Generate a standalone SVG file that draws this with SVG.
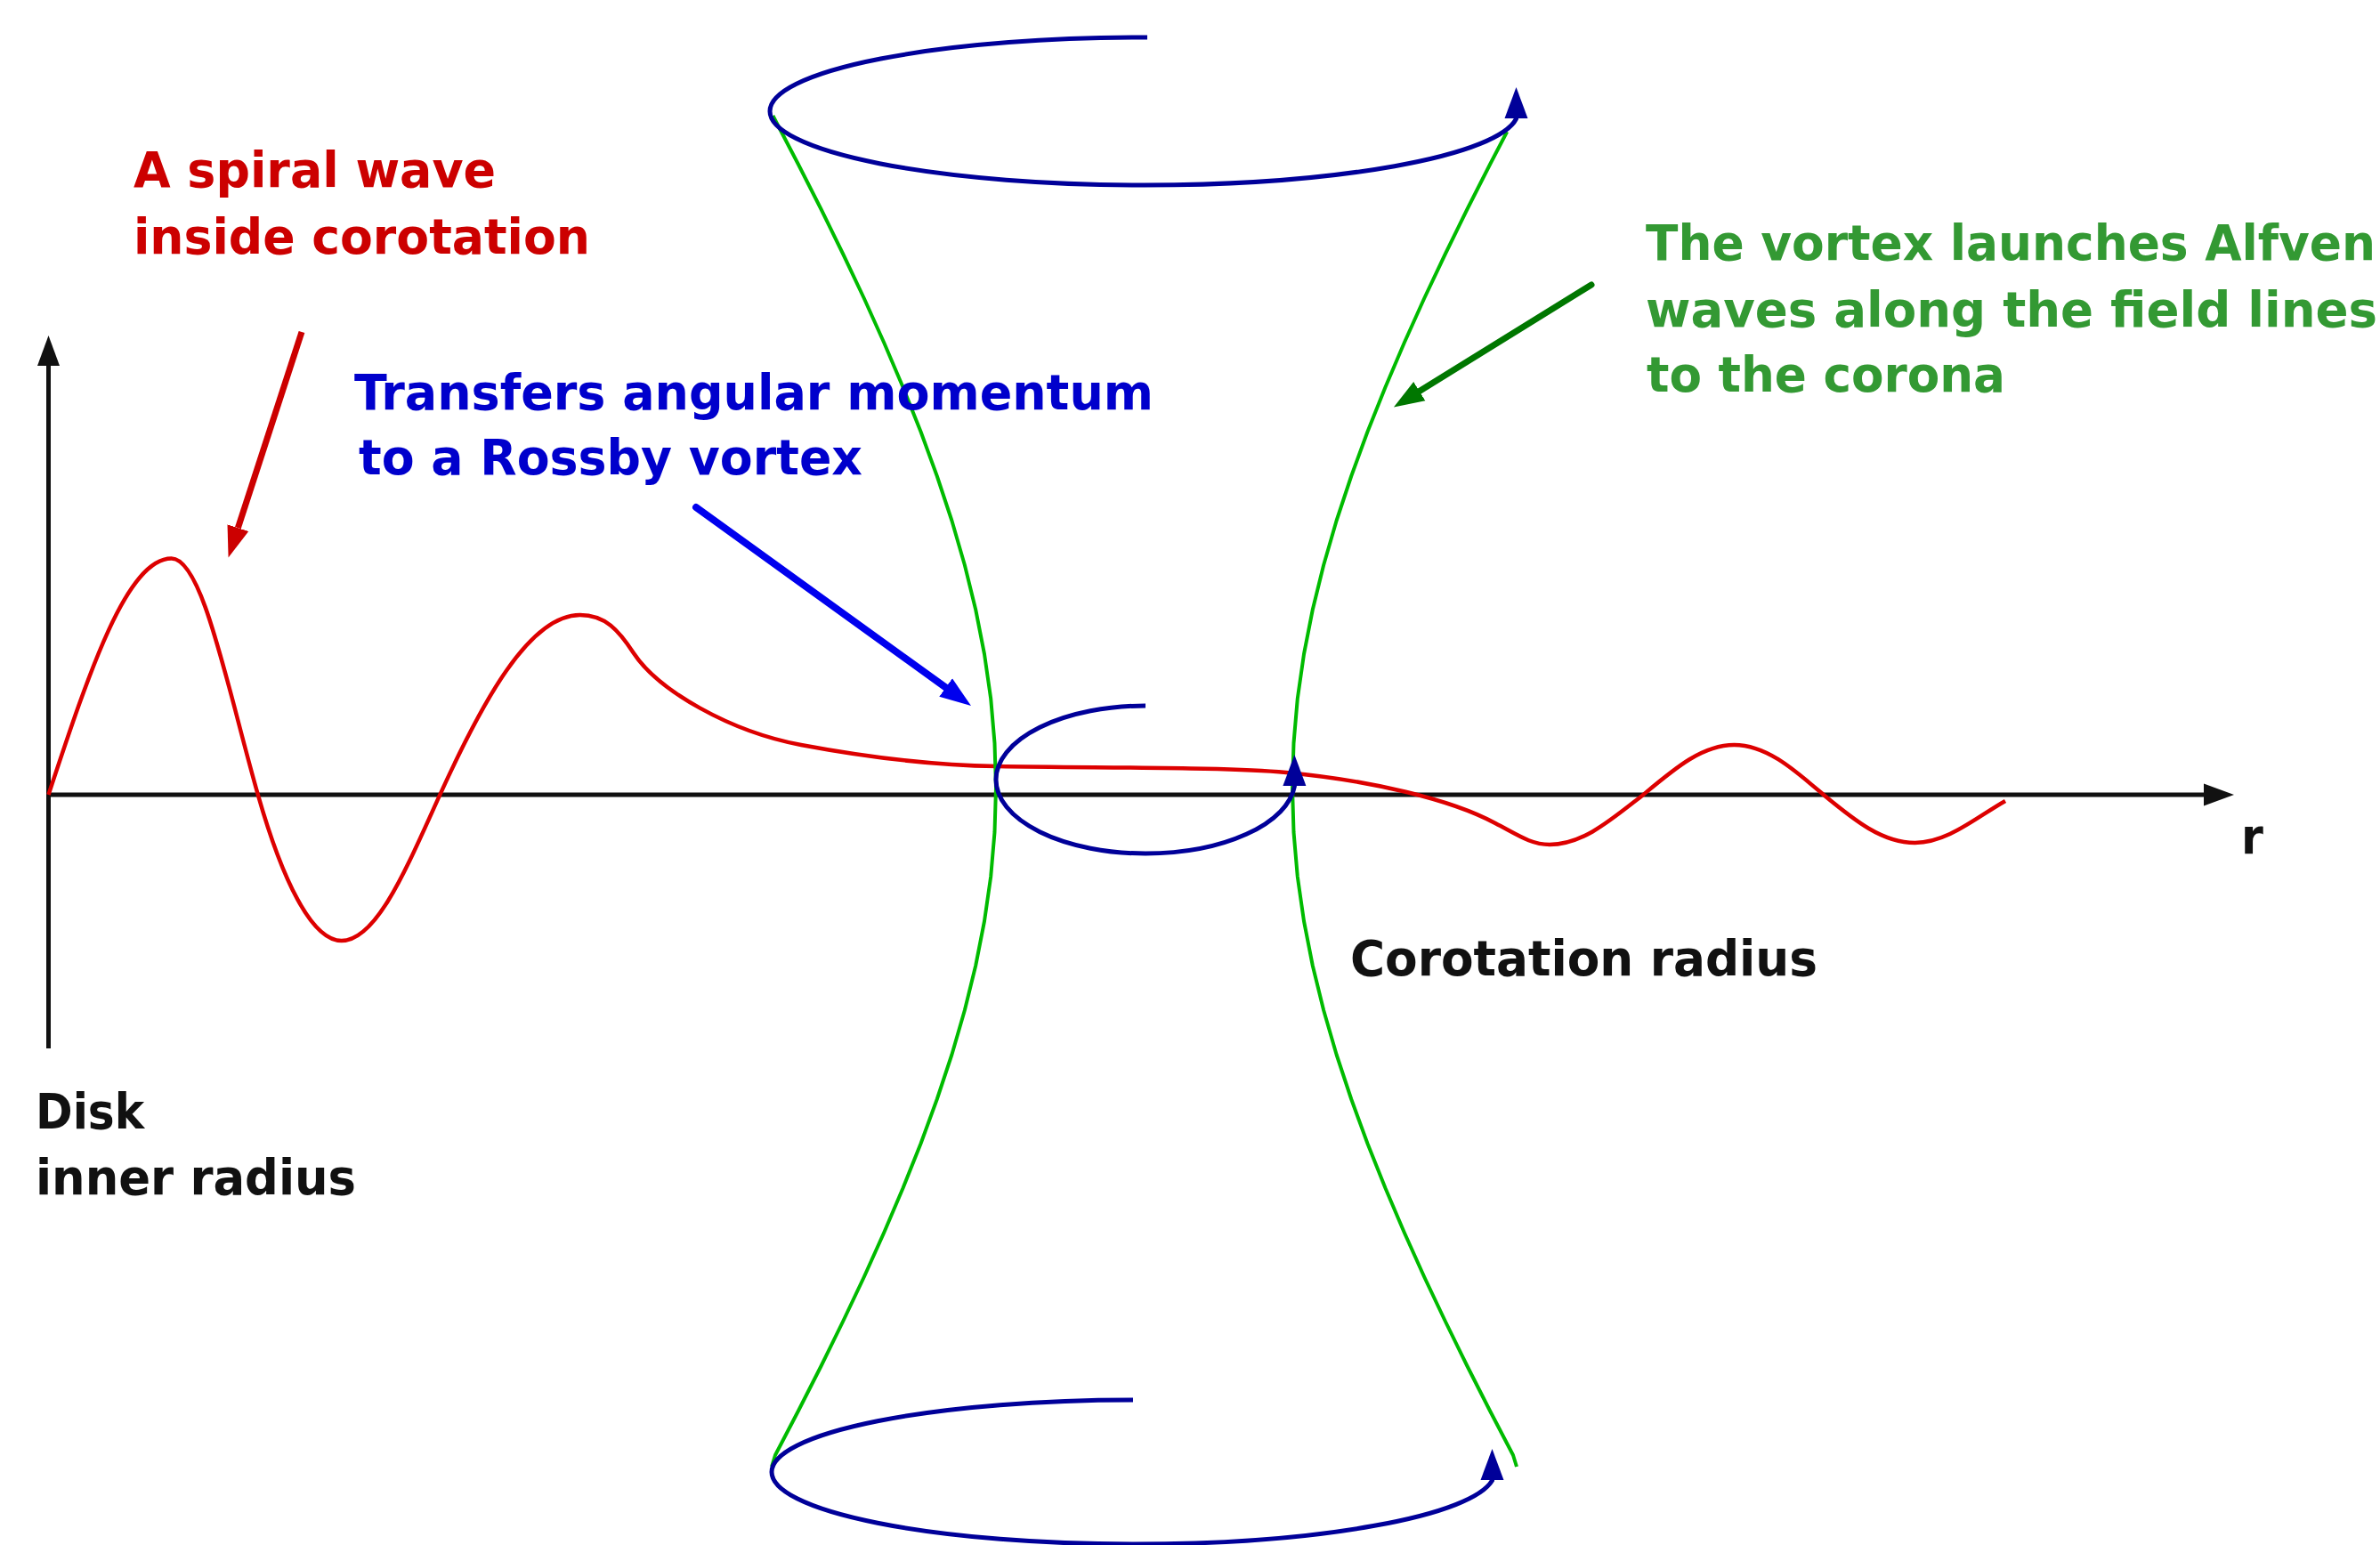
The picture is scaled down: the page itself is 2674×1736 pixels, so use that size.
<svg xmlns="http://www.w3.org/2000/svg" width="2674" height="1736" viewBox="0 0 2674 1736">
<style>
text{font-family:"Liberation Sans Narrow","DejaVu Sans Condensed","Liberation Sans",sans-serif;font-weight:bold;font-size:56px}
.red{fill:#cc0000}.blue{fill:#0000cc}.green{fill:#339933}.black{fill:#111}
.axis{stroke:#111;stroke-width:5;fill:none}
.wave{stroke:#dd0000;stroke-width:4.5;fill:none;stroke-linejoin:round}
.field{stroke:#00bb00;stroke-width:4;fill:none;stroke-linejoin:round}
.vortex{stroke:#000099;stroke-width:5;fill:none}
</style>
<defs>
<marker id="ah-black" markerUnits="userSpaceOnUse" viewBox="0 -14 36 28" markerWidth="36" markerHeight="28" refX="0" refY="0" orient="auto"><path d="M0,-12.5 L34,0 L0,12.5 z" fill="#111"/></marker>
<marker id="ah-red" markerUnits="userSpaceOnUse" viewBox="0 -14 36 28" markerWidth="36" markerHeight="28" refX="0" refY="0" orient="auto"><path d="M0,-12.5 L35,0 L0,12.5 z" fill="#cc0000"/></marker>
<marker id="ah-blue" markerUnits="userSpaceOnUse" viewBox="0 -14 36 28" markerWidth="36" markerHeight="28" refX="0" refY="0" orient="auto"><path d="M0,-12.5 L35,0 L0,12.5 z" fill="#0000ee"/></marker>
<marker id="ah-green" markerUnits="userSpaceOnUse" viewBox="0 -14 36 28" markerWidth="36" markerHeight="28" refX="0" refY="0" orient="auto"><path d="M0,-12.5 L34,0 L0,12.5 z" fill="#007700"/></marker>
<marker id="ah-navy" markerUnits="userSpaceOnUse" viewBox="0 -14 36 28" markerWidth="36" markerHeight="28" refX="0" refY="0" orient="auto"><path d="M0,-13 L35,0 L0,13 z" fill="#000099"/></marker>
</defs>
<rect width="2674" height="1736" fill="#fff"/>

<g id="axes">
<path class="axis" d="M54.5 1178 L54.5 411" marker-end="url(#ah-black)"/>
<path class="axis" d="M54.5 893 L2476 893" marker-end="url(#ah-black)"/>
</g>

<g id="spiral-wave">
<path class="wave" d="M54.5 893 C100.6 753.3 142.8 627.6 192.7 627.6 C227.7 627.6 255 771 290 893.6 C317 988 350 1057 383.7 1057 C423.3 1057 457 975 494 893.6 C542 788 594.9 691 651.6 691 C680 691 695 708 712 734 C740 776 820 822 900 837 C980 852 1050 860 1120 861 C1250 863 1380 862 1445 868 C1540 877 1630 898 1680 925 C1705 938 1720 949 1741 949 C1778.4 949 1810.2 921 1845 894 C1879.8 865 1911.6 837 1948.4 837 C1985 837 2016 865 2050 894 C2083.9 922 2115 947 2151.5 947 C2188 947 2219.5 919 2253 900"/>
</g>

<g id="field-lines">
<path class="field" d="M868.4 130 L871 135 L897.1 185 L922.5 235 L947 285 L970.7 335 L993.2 385 L1014.5 435 L1034.5 485 L1052.8 535 L1069.4 585 L1083.9 635 L1096.2 685 L1106 735 L1113.2 785 L1117.5 835 L1119 885 L1117.5 935 L1113.2 985 L1106 1035 L1096.2 1085 L1083.9 1135 L1069.4 1185 L1052.8 1235 L1034.5 1285 L1014.5 1335 L993.2 1385 L970.7 1435 L947 1485 L922.5 1535 L897.1 1585 L871 1635 L867 1648"/>
<path class="field" d="M1693.2 148 L1673.9 185 L1648.5 235 L1624 285 L1600.3 335 L1577.8 385 L1556.5 435 L1536.5 485 L1518.2 535 L1501.6 585 L1487.1 635 L1474.8 685 L1465 735 L1457.8 785 L1453.5 835 L1452 885 L1453.5 935 L1457.8 985 L1465 1035 L1474.8 1085 L1487.1 1135 L1501.6 1185 L1518.2 1235 L1536.5 1285 L1556.5 1335 L1577.8 1385 L1600.3 1435 L1624 1485 L1648.5 1535 L1673.9 1585 L1700 1635 L1704 1648"/>
</g>

<g id="vortex-top">
<path class="vortex" d="M1289 42 A420 83 0 0 0 865 125 A420 83 0 0 0 1285 208 A420 83 0 0 0 1703.5 133.5 l0 -0.5" marker-end="url(#ah-navy)"/>
</g>
<g id="vortex-middle">
<path class="vortex" d="M1287 793 A168 83 0 0 0 1119 876 A168 83 0 0 0 1287 959 A168 83 0 0 0 1454.4 883.5 l0 -0.5" marker-end="url(#ah-navy)"/>
</g>
<g id="vortex-bottom">
<path class="vortex" d="M1273 1573 A406 81 0 0 0 867 1654 A406 81 0 0 0 1273 1735 A406 81 0 0 0 1676.5 1663.5 l0 -0.5" marker-end="url(#ah-navy)"/>
</g>

<g id="connectors">
<path d="M339 373 L267.4 593.2" stroke="#cc0000" stroke-width="7" fill="none" marker-end="url(#ah-red)"/>
<path d="M782 570 L1062.6 772.5" stroke="#0000ee" stroke-width="8" stroke-linecap="round" fill="none" marker-end="url(#ah-blue)"/>
<path d="M1788 320 L1594.8 439.6" stroke="#007700" stroke-width="7" stroke-linecap="round" fill="none" marker-end="url(#ah-green)"/>
</g>

<g id="label-spiral">
<text class="red" x="150" y="210" textLength="407" lengthAdjust="spacingAndGlyphs">A spiral wave</text>
<text class="red" x="150" y="285" textLength="513" lengthAdjust="spacingAndGlyphs">inside corotation</text>
</g>
<g id="label-transfer">
<text class="blue" x="398" y="460" textLength="898" lengthAdjust="spacingAndGlyphs">Transfers angular momentum</text>
<text class="blue" x="403" y="533" textLength="566" lengthAdjust="spacingAndGlyphs">to a Rossby vortex</text>
</g>
<g id="label-alfven">
<text class="green" x="1849" y="292" textLength="820" lengthAdjust="spacingAndGlyphs">The vortex launches Alfven</text>
<text class="green" x="1849" y="367" textLength="822" lengthAdjust="spacingAndGlyphs">waves along the field lines</text>
<text class="green" x="1850" y="440" textLength="403" lengthAdjust="spacingAndGlyphs">to the corona</text>
</g>
<g id="label-corotation">
<text class="black" x="1517" y="1096" textLength="525" lengthAdjust="spacingAndGlyphs">Corotation radius</text>
</g>
<g id="label-disk">
<text class="black" x="40" y="1268" textLength="122" lengthAdjust="spacingAndGlyphs">Disk</text>
<text class="black" x="40" y="1342" textLength="360" lengthAdjust="spacingAndGlyphs">inner radius</text>
</g>
<g id="label-r">
<text class="black" x="2518" y="959">r</text>
</g>
</svg>
